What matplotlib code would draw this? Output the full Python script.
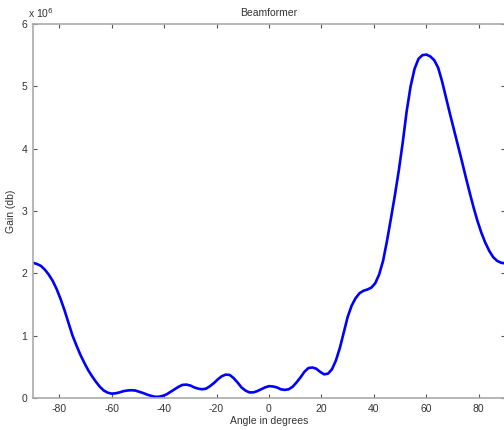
import matplotlib
matplotlib.use('Agg')
import matplotlib.pyplot as plt

# beam pattern (gain in units of 1e6), every 1.5 degrees
angle = [-90, -88.5, -87, -85.5, -84, -82.5, -81, -79.5, -78, -76.5, -75, -73.5, -72, -70.5,
         -69, -67.5, -66, -64.5, -63, -61.5, -60, -58.5, -57, -55.5, -54, -52.5, -51, -49.5,
         -48, -46.5, -45, -43.5, -42, -40.5, -39, -37.5, -36, -34.5, -33, -31.5, -30, -28.5,
         -27, -25.5, -24, -22.5, -21, -19.5, -18, -16.5, -15, -13.5, -12, -10.5, -9, -7.5,
         -6, -4.5, -3, -1.5, 0, 1.5, 3, 4.5, 6, 7.5, 9, 10.5, 12, 13.5,
         15, 16.5, 18, 19.5, 21, 22.5, 24, 25.5, 27, 28.5, 30, 31.5, 33, 34.5,
         36, 37.5, 39, 40.5, 42, 43.5, 45, 46.5, 48, 49.5, 51, 52.5, 54, 55.5,
         57, 58.5, 60, 61.5, 63, 64.5, 66, 67.5, 69, 70.5, 72, 73.5, 75, 76.5,
         78, 79.5, 81, 82.5, 84, 85.5, 87, 88.5, 90]
gain = [2.17, 2.15, 2.12, 2.06, 1.98, 1.88, 1.75, 1.59, 1.41, 1.21, 1.01, 0.85, 0.70, 0.57,
        0.45, 0.35, 0.26, 0.18, 0.12, 0.085, 0.07, 0.075, 0.09, 0.11, 0.12, 0.125, 0.12, 0.10,
        0.08, 0.055, 0.035, 0.02, 0.02, 0.035, 0.06, 0.10, 0.14, 0.18, 0.21, 0.215, 0.20, 0.17,
        0.15, 0.14, 0.15, 0.19, 0.24, 0.30, 0.35, 0.375, 0.37, 0.32, 0.25, 0.17, 0.12, 0.09,
        0.09, 0.11, 0.14, 0.17, 0.19, 0.185, 0.17, 0.14, 0.13, 0.14, 0.18, 0.25, 0.33, 0.42,
        0.48, 0.49, 0.47, 0.42, 0.38, 0.39, 0.46, 0.60, 0.80, 1.05, 1.30, 1.48, 1.60, 1.68,
        1.72, 1.74, 1.77, 1.84, 1.98, 2.20, 2.52, 2.88, 3.25, 3.65, 4.10, 4.60, 5.00, 5.28,
        5.44, 5.50, 5.51, 5.48, 5.42, 5.30, 5.08, 4.82, 4.56, 4.31, 4.06, 3.81, 3.55, 3.30,
        3.06, 2.84, 2.65, 2.49, 2.36, 2.26, 2.20, 2.17, 2.16]
xticks = [-80, -60, -40, -20, 0, 20, 40, 60, 80]
yticks = [0, 1, 2, 3, 4, 5, 6]

plt.rcParams['font.family'] = 'Liberation Sans'
plt.rcParams['axes.unicode_minus'] = False
grey = '#555555'

fig = plt.figure(figsize=(5.04, 4.30), dpi=100)
ax = fig.add_axes([33 / 504, 1 - 398 / 430, 472 / 504, 374 / 430])
ax.plot(angle, gain, color='#0000ff', linewidth=1.9, solid_joinstyle='round')

ax.set_xlim(-90, 90)
ax.set_ylim(0, 6)
ax.set_xticks(xticks)
ax.set_yticks(yticks)
ax.tick_params(direction='in', length=3, width=0.8, color=grey, labelcolor='#333333',
               labelsize=7.5, top=True, right=True, pad=4)
for s in ax.spines.values():
    s.set_color('#aaaaaa')
    s.set_linewidth(1.2)

ax.set_title('Beamformer', fontsize=7.5, color='#333333', pad=6)
ax.set_xlabel('Angle in degrees', fontsize=7.5, color='#333333', labelpad=2)
ax.set_ylabel('Gain (db)', fontsize=7.5, color='#333333', labelpad=4)
ax.text(-0.01, 1.012, r'x 10$^{6}$', transform=ax.transAxes, fontsize=7.5,
        color='#333333', ha='left', va='bottom')

fig.savefig('out.png', dpi=100)
